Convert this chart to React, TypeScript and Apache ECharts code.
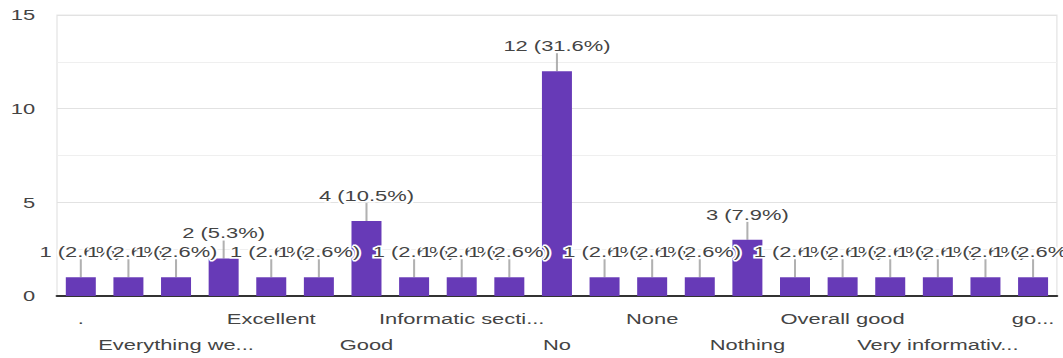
import React, { useEffect, useRef } from "react";
import * as echarts from "echarts";

const categories: string[] = [
  ".", "", "Everything we...", "", "Excellent", "", "Good", "", "Informatic secti...", "",
  "No", "", "None", "", "Nothing", "", "Overall good", "", "Very informativ...", "", "go...",
];
const counts: number[] = [1, 1, 1, 2, 1, 1, 4, 1, 1, 1, 12, 1, 1, 1, 3, 1, 1, 1, 1, 1, 1];
const yTicks = { min: 0, max: 15, interval: 5 };

const STRETCH = 1.46;
const W = 1063;
const H = 358;

export default function App() {
  const ref = useRef<HTMLDivElement>(null);
  useEffect(() => {
    if (!ref.current) return;
    const chart = echarts.init(ref.current, undefined, { renderer: "svg" });
    const total = counts.reduce((a, b) => a + b, 0);
    const font = "'Liberation Sans', Arial, sans-serif";
    chart.setOption({
      animation: false,
      grid: {
        left: 57 / STRETCH,
        right: 6 / STRETCH,
        top: 15,
        bottom: 61,
        show: true,
        borderColor: "#e8e8e8",
        borderWidth: 1,
      },
      xAxis: {
        type: "category",
        data: categories,
        axisLine: { show: true, lineStyle: { color: "#333", width: 2 } },
        axisTick: { show: false },
        axisLabel: {
          interval: 0,
          margin: 10,
          fontSize: 15,
          lineHeight: 26,
          color: "#444",
          fontFamily: font,
          formatter: (v: string, i: number) =>
            i % 2 === 1 ? "" : i % 4 === 0 ? v : "\n" + v,
        },
      },
      yAxis: {
        type: "value",
        min: yTicks.min,
        max: yTicks.max,
        interval: yTicks.interval,
        axisLine: { show: false },
        axisTick: { show: false },
        axisLabel: { margin: 15, fontSize: 15, color: "#444", fontFamily: font },
        splitLine: { lineStyle: { color: "#e2e2e2", width: 1 } },
        minorTick: { show: false, splitNumber: 2 },
        minorSplitLine: { show: true, lineStyle: { color: "#efefef", width: 1 } },
      },
      series: [
        {
          type: "scatter",
          data: counts,
          symbol: "rect",
          symbolSize: [1.4, 18],
          symbolOffset: [0, -9],
          itemStyle: { color: "#9e9e9e" },
          silent: true,
          z: 1,
        },
        {
          type: "bar",
          data: counts,
          barCategoryGap: "37%",
          itemStyle: { color: "#673ab7" },
          z: 2,
          label: {
            show: true,
            position: "top",
            distance: 18,
            fontSize: 15,
            color: "#444",
            fontFamily: font,
            textBorderColor: "#fff",
            textBorderWidth: 3,
            formatter: (p: any) =>
              `${p.value} (${((p.value / total) * 100).toFixed(1)}%)`,
          },
        },
      ],
    });
    return () => chart.dispose();
  }, []);
  return (
    <div
      style={{
        position: "fixed",
        left: 0,
        top: 0,
        width: W,
        height: H,
        overflow: "hidden",
        background: "#fff",
      }}
    >
      <div
        ref={ref}
        style={{
          width: W / STRETCH,
          height: H,
          transform: `scaleX(${STRETCH})`,
          transformOrigin: "0 0",
        }}
      />
    </div>
  );
}
